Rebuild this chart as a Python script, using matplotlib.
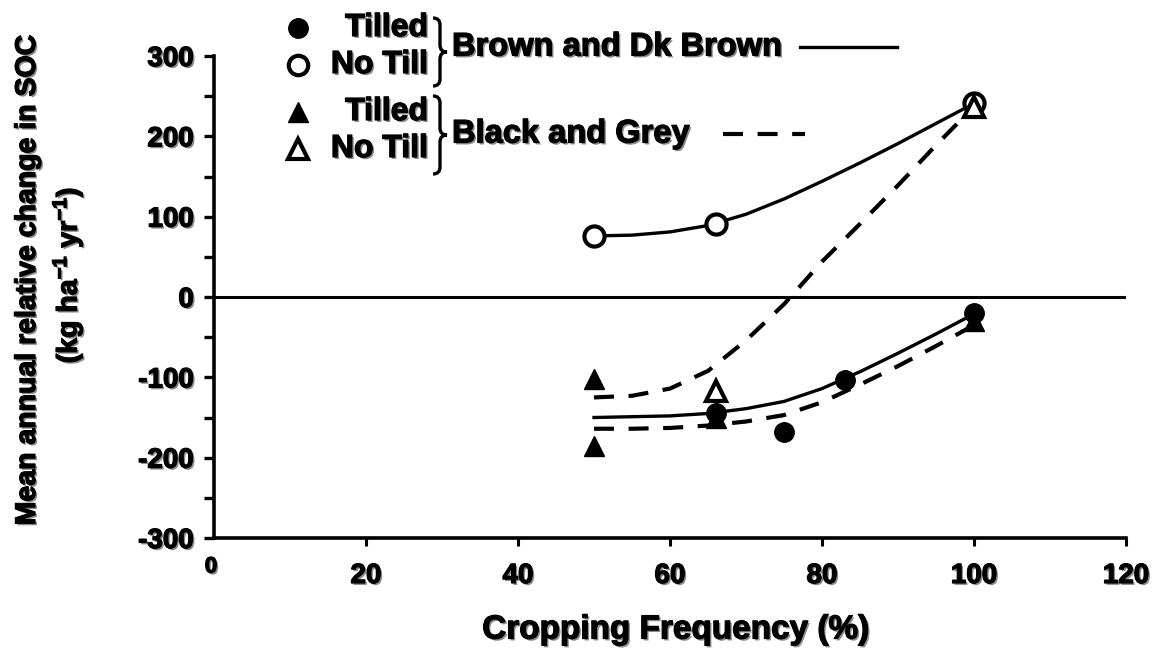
import numpy as np
import matplotlib
matplotlib.use("Agg")
import matplotlib.pyplot as plt
import matplotlib.patheffects as pe
from matplotlib.path import Path
from matplotlib.patches import PathPatch

plt.rcParams['font.family'] = ['Liberation Sans', 'DejaVu Sans']
plt.rcParams['font.weight'] = 'bold'
plt.rcParams['axes.unicode_minus'] = False
plt.rcParams['mathtext.fontset'] = 'custom'
plt.rcParams['mathtext.rm'] = 'Liberation Sans:bold'
plt.rcParams['mathtext.bf'] = 'Liberation Sans:bold'
plt.rcParams['mathtext.default'] = 'bf'

# measured points
brown_tilled_x = [66, 75, 83, 100]
brown_tilled_y = [-145, -168, -103, -20]
brown_notill_x = [50, 66, 100]
brown_notill_y = [76, 91, 242]
black_tilled_x = [50, 50, 66, 100]
black_tilled_y = [-102, -185, -150, -30]
black_notill_x = [66, 100]
black_notill_y = [-117, 236]

# fitted curves, sampled every 5 %
curve_x = [50, 55, 60, 65, 70, 75, 80, 85, 90, 95, 100]
fit_brown_notill = [76, 77, 81, 89, 103, 122, 144, 167, 191, 216, 241]
fit_brown_tilled = [-150, -149, -148, -145, -139, -130, -114, -93, -70, -46, -21]
fit_black_notill = [-125, -123, -114, -92, -54, -9, 44, 91, 139, 189, 237]
fit_black_tilled = [-164, -164, -163, -160, -155, -147, -131, -109, -86, -61, -35]

W, H = 1156, 652
shadow = [pe.SimplePatchShadow(offset=(1.4, -1.4), shadow_rgbFace='0.55', alpha=1.0),
          pe.Stroke(linewidth=0.9, foreground='black'), pe.Normal()]
DASH = (0, (4.8, 3.5))
LW = 2.4
LW_DASH = 3.0

fig = plt.figure(figsize=(W / 100, H / 100), dpi=100)
ax = fig.add_axes([214 / W, 1 - 538 / H, (1126 - 214) / W, (538 - 56) / H])

ax.plot(curve_x, fit_brown_notill, color='black', lw=LW, zorder=2)
ax.plot(curve_x, fit_brown_tilled, color='black', lw=LW, zorder=2)
ax.plot(curve_x, fit_black_notill, color='black', lw=LW_DASH, ls=DASH, zorder=2)
ax.plot(curve_x, fit_black_tilled, color='black', lw=LW_DASH, ls=DASH, zorder=2)

ax.axhline(0, color='black', lw=2.2, zorder=1)

ms = 14.5
ax.plot(black_tilled_x, black_tilled_y, '^', color='black', ms=ms, zorder=3)
ax.plot(brown_tilled_x, brown_tilled_y, 'o', color='black', ms=ms - 0.5, zorder=4)
ax.plot(brown_notill_x, brown_notill_y, 'o', mfc='white', mec='black', mew=3, ms=ms, zorder=4)
ax.plot(black_notill_x, black_notill_y, '^', mfc='white', mec='black', mew=3, ms=ms, zorder=5)

ax.set_xlim(0, 120)
ax.set_ylim(-300, 300)
ax.set_xticks([20, 40, 60, 80, 100, 120])
ax.set_yticks(np.arange(-300, 301, 100))
ax.set_yticks(np.arange(-250, 300, 100), minor=True)
for s in ['top', 'right']:
    ax.spines[s].set_visible(False)
for s in ['left', 'bottom']:
    ax.spines[s].set_linewidth(2.6)
ax.tick_params(axis='y', which='both', direction='out', length=7.5, width=2.4, labelsize=20, pad=7)
ax.tick_params(axis='x', direction='out', length=6, width=2.2, labelsize=20, pad=12)
for lab in ax.get_xticklabels() + ax.get_yticklabels():
    lab.set_fontweight('bold')
    lab.set_path_effects(shadow)

# overlay in pixel coordinates for the key and axis titles
ov = fig.add_axes([0, 0, 1, 1], zorder=10)
ov.set_xlim(0, W)
ov.set_ylim(H, 0)
ov.axis('off')

ov.text(211, 567, '0', fontsize=16, ha='center', va='center', path_effects=shadow)
ov.text(676, 630, 'Cropping Frequency (%)', fontsize=24, ha='center', va='center',
        path_effects=shadow)
ov.text(28, 280, 'Mean annual relative change in SOC', fontsize=20.5, rotation=90,
        ha='center', va='center', path_effects=shadow)
ov.text(68, 275, r'(kg ha$^{-1}$ yr$^{-1}$)', fontsize=20.5, rotation=90,
        ha='center', va='center', path_effects=shadow)

# key
rows = [(28, 'o', 'black', 'Tilled'), (65, 'o', 'white', 'No Till'),
        (112, '^', 'black', 'Tilled'), (149, '^', 'white', 'No Till')]
for y, m, fc, lab in rows:
    ov.plot([298], [y], m, mfc=fc, mec='black', mew=3 if fc == 'white' else 1,
            ms=ms - 0.5 if m == 'o' else ms)
    ov.text(428, y, lab, fontsize=23, ha='right', va='center', path_effects=shadow)


def brace(x, y0, y1, w=7, r=7):
    ym = (y0 + y1) / 2
    verts = [(x - w, y0), (x, y0), (x, y0 + r),
             (x, ym - r), (x, ym), (x + w, ym),
             (x, ym), (x, ym + r),
             (x, y1 - r), (x, y1), (x - w, y1)]
    codes = [Path.MOVETO, Path.CURVE3, Path.CURVE3,
             Path.LINETO, Path.CURVE3, Path.CURVE3,
             Path.CURVE3, Path.CURVE3,
             Path.LINETO, Path.CURVE3, Path.CURVE3]
    ov.add_patch(PathPatch(Path(verts, codes), fill=False, lw=2.4, ec='black'))


brace(440, 18, 86)
brace(440, 96, 174)

ov.text(452, 47, 'Brown and Dk Brown', fontsize=23.5, ha='left', va='center', path_effects=shadow)
ov.plot([800, 897], [47, 47], color='black', lw=LW)
ov.text(452, 134, 'Black and Grey', fontsize=23.5, ha='left', va='center', path_effects=shadow)
ov.plot([723, 805], [134, 134], color='black', lw=LW_DASH, ls=DASH)

fig.savefig('out.png', dpi=100)
